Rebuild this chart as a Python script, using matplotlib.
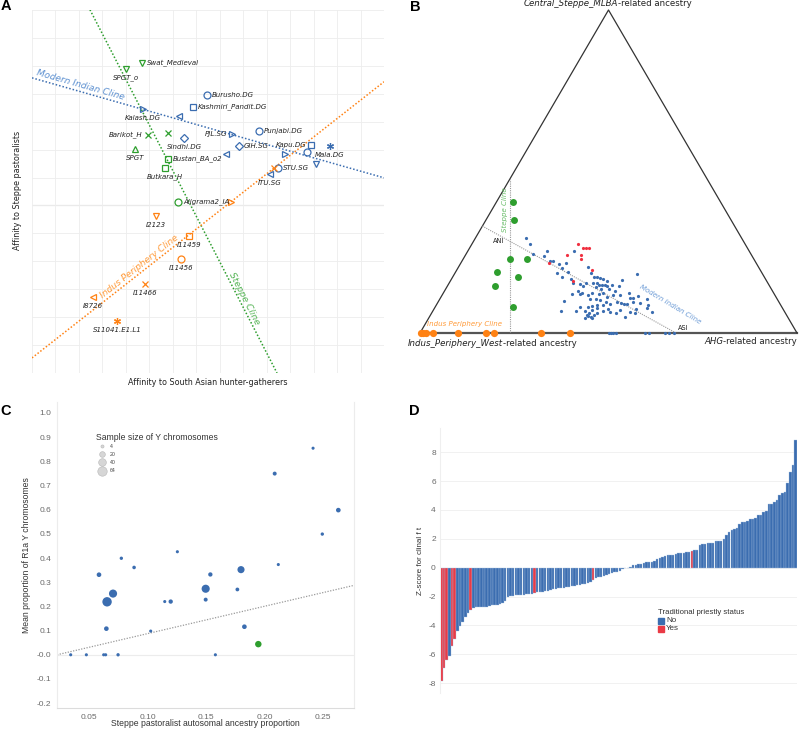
import numpy as np
import matplotlib.pyplot as plt

W, H = 800, 731
fig = plt.figure(figsize=(W / 100, H / 100), dpi=100)

BLUE = "#3b6db0"
GREEN = "#2e9e2e"
ORANGE = "#ff8214"
RED = "#ea3a45"
SANS = "Liberation Sans"


def add_ax(left, top, right, bottom):
    # axes placed by its pixel box in the reference
    return fig.add_axes([left / W, 1 - bottom / H, (right - left) / W, (bottom - top) / H])


def fig_text(x, y, s, **kw):
    return fig.text(x / W, 1 - y / H, s, **kw)


# ---------------- panel A data ----------------
a_labels = ["Swat_Medieval", "SPGT_o", "Burusho.DG", "Kashmiri_Pandit.DG", "Kalash.DG", "",
            "Barikot_H", "", "Sindhi.DG", "PJL.SG", "Punjabi.DG", "GIH.SG", "Kapu.DG", "Mala.DG",
            "", "", "", "SPGT", "Bustan_BA_o2", "Butkara_H", "", "STU.SG", "", "ITU.SG",
            "Aligrama2_IA", "", "I2123", "I11459", "I11456", "I11466", "I8726", "S11041.E1.L1"]
a_x = [4.69, 4.00, 7.46, 6.86, 4.73, 6.26, 4.94, 5.79, 6.48, 8.52, 9.67, 8.82, 11.89, 12.70,
       11.72, 10.78, 12.10, 4.39, 5.79, 5.67, 8.27, 10.48, 10.31, 10.14,
       6.22, 8.48, 5.28, 6.69, 6.35, 4.81, 2.60, 3.62]
a_y = [11.11, 10.90, 9.96, 9.53, 9.46, 9.21, 8.53, 8.60, 8.42, 8.57, 8.67, 8.14, 8.17, 8.14,
       7.92, 7.85, 7.49, 8.03, 7.67, 7.35, 7.85, 7.35, 7.35, 7.13,
       6.13, 6.13, 5.63, 4.91, 4.09, 3.19, 2.72, 1.86]
a_group = ["g", "g", "b", "b", "b", "b", "g", "g", "b", "b", "b", "b", "b", "b",
           "b", "b", "b", "g", "g", "g", "b", "b", "o", "b",
           "g", "o", "o", "o", "o", "o", "o", "o"]
a_shape = ["v", "v", "o", "s", ">", "<", "x", "x", "D", ">", "o", "D", "s", "*",
           "o", ">", "v", "^", "s", "s", "<", "o", "x", "<",
           "o", ">", "v", "s", "o", "x", "<", "*"]
a_place = ["r", "b", "r", "r", "b", "", "l", "", "b", "l", "r", "r", "l", "b",
           "", "", "", "b", "r", "b", "", "r", "", "b",
           "r", "", "b", "b", "b", "b", "b", "b"]

# cline end points
mic_x, mic_y = [0, 15], [10.57, 6.99]
stc_x, stc_y = [2.47, 10.44], [13.01, 0.0]
ipc_x, ipc_y = [0, 15], [0.54, 10.43]

# ---------------- panel B data (steppe, AHG proportions) ----------------
b_blue_steppe = [0.293, 0.276, 0.245, 0.239, 0.255, 0.255, 0.222, 0.224, 0.213, 0.218, 0.200, 0.185,
                 0.172, 0.190, 0.168, 0.205, 0.185, 0.174, 0.172, 0.169, 0.166, 0.162, 0.164, 0.182,
                 0.156, 0.152, 0.146, 0.154, 0.156, 0.156, 0.149, 0.148, 0.148, 0.146, 0.148, 0.146,
                 0.141, 0.135, 0.121, 0.131, 0.121, 0.123, 0.118, 0.123, 0.121, 0.123, 0.112, 0.118,
                 0.118, 0.125, 0.116, 0.109, 0.107, 0.105, 0.099, 0.104, 0.106, 0.102, 0.097, 0.090,
                 0.097, 0.092, 0.090, 0.090, 0.097, 0.092, 0.087, 0.087, 0.087, 0.084, 0.079, 0.067,
                 0.067, 0.079, 0.069, 0.061, 0.071, 0.057, 0.057, 0.051, 0.045, 0.063, 0.067, 0.066,
                 0.061, 0.071, 0.051, 0.066, 0.061, 0.064, 0.076, 0.073, 0.053, 0.045, 0.077, 0.135,
                 0.131, 0.073]
b_blue_ahg = [0.134, 0.155, 0.177, 0.210, 0.210, 0.281, 0.235, 0.242, 0.262, 0.277, 0.277, 0.270,
              0.290, 0.297, 0.316, 0.344, 0.360, 0.375, 0.384, 0.393, 0.403, 0.414, 0.453, 0.484,
              0.329, 0.348, 0.359, 0.362, 0.380, 0.391, 0.401, 0.409, 0.416, 0.424, 0.434, 0.456,
              0.397, 0.412, 0.344, 0.353, 0.364, 0.369, 0.387, 0.394, 0.415, 0.425, 0.439, 0.454,
              0.472, 0.493, 0.521, 0.511, 0.503, 0.549, 0.332, 0.399, 0.414, 0.426, 0.445, 0.459,
              0.473, 0.486, 0.495, 0.504, 0.517, 0.538, 0.562, 0.425, 0.441, 0.413, 0.406, 0.341,
              0.379, 0.386, 0.403, 0.419, 0.421, 0.433, 0.414, 0.428, 0.415, 0.437, 0.453, 0.471,
              0.489, 0.495, 0.519, 0.524, 0.540, 0.584, 0.563, 0.536, 0.419, 0.435, 0.432, 0.435,
              0.452, 0.463]
b_blue_base_ahg = [0.500, 0.506, 0.513, 0.520, 0.597, 0.608, 0.650, 0.661, 0.674]
b_red_steppe = [0.216, 0.241, 0.277, 0.264, 0.262, 0.262, 0.240, 0.228, 0.195, 0.162]
b_red_ahg = [0.233, 0.270, 0.281, 0.300, 0.308, 0.316, 0.307, 0.314, 0.359, 0.324]
b_green_steppe = [0.406, 0.350, 0.229, 0.229, 0.189, 0.173, 0.146, 0.080]
b_green_ahg = [0.044, 0.074, 0.124, 0.169, 0.110, 0.173, 0.126, 0.207]
b_orange_ahg = [0.003, 0.008, 0.016, 0.034, 0.101, 0.175, 0.196, 0.321, 0.398]
b_steppe_cline_s, b_steppe_cline_a = [0.0, 0.478], [0.239, 0.0]
b_mic_s, b_mic_a = [0.331, 0.0], [0.0, 0.679]

# ---------------- panel C data ----------------
c_steppe = [0.0343, 0.0477, 0.0625, 0.0642, 0.0748, 0.158, 0.0585, 0.0776, 0.0885, 0.1255,
            0.0705, 0.0654, 0.0648, 0.1027, 0.1147, 0.1198, 0.1497, 0.1537, 0.1497, 0.1768,
            0.1799, 0.1828, 0.1947, 0.2087, 0.2118, 0.2415, 0.2494, 0.2631]
c_r1a = [0.0, 0.0, 0.0, 0.0, 0.0, 0.0, 0.331, 0.399, 0.361, 0.426,
         0.253, 0.219, 0.108, 0.098, 0.220, 0.220, 0.273, 0.332, 0.228, 0.270,
         0.352, 0.116, 0.044, 0.749, 0.373, 0.854, 0.499, 0.598]
c_n = [4, 4, 4, 4, 5, 4, 12, 5, 6, 4,
       46, 64, 12, 4, 4, 10, 46, 10, 8, 7,
       34, 12, 27, 8, 4, 4, 5, 12]
c_green = [22]
c_fit_x, c_fit_y = [0.0226, 0.2765], [0.0, 0.287]
c_yticks = [1.0, 0.9, 0.8, 0.7, 0.6, 0.5, 0.4, 0.3, 0.2, 0.1, 0.0, -0.1, -0.2]
c_yticklabels = ["1.0", "0.9", "0.8", "0.7", "0.6", "0.5", "0.4", "0.3", "0.2", "0.1",
                 "-0.0", "-0.1", "-0.2"]
c_xticks = [0.05, 0.10, 0.15, 0.20, 0.25]
c_xticklabels = ["0.05", "0.10", "0.15", "0.20", "0.25"]
c_legend_n = [4, 20, 40, 64]

# ---------------- panel D data ----------------
d_z = [-7.85, -6.97, -6.37, -6.12, -5.40, -4.94, -4.39, -4.04, -3.74, -3.40, -3.16, -2.93,
       -2.76, -2.75, -2.74, -2.73, -2.72, -2.70, -2.66, -2.62, -2.58, -2.56, -2.52, -2.48, -2.30,
       -2.00, -1.96, -1.93, -1.91, -1.89, -1.87, -1.86, -1.84, -1.82, -1.80, -1.76,
       -1.72, -1.70, -1.66, -1.62, -1.59, -1.55, -1.51, -1.47, -1.43, -1.40,
       -1.38, -1.35, -1.32, -1.28, -1.25, -1.22, -1.19, -1.15, -1.11, -1.07, -1.02,
       -0.85,
       -0.72, -0.68, -0.62, -0.56, -0.50, -0.45, -0.40, -0.33, -0.27, -0.20, -0.12, -0.05, -0.02,
       0.03, 0.18, 0.20, 0.22, 0.25, 0.30, 0.38, 0.40, 0.42, 0.45,
       0.58, 0.68, 0.72, 0.80, 0.85, 0.88, 0.90, 0.93, 0.98, 1.00, 1.02, 1.05, 1.10,
       1.18,
       1.20, 1.22, 1.58, 1.62, 1.66, 1.70, 1.70, 1.72, 1.82, 1.84,
       1.86, 1.95, 2.28, 2.48, 2.58, 2.70, 2.78, 3.02, 3.15, 3.16,
       3.20, 3.35, 3.40, 3.42, 3.64, 3.68, 3.85, 3.92, 4.38, 4.42,
       4.55, 4.70, 5.00, 5.15, 5.22, 5.85, 6.62, 7.10, 8.85]
d_priestly = [0, 1, 2, 4, 5, 11, 35, 57, 94]

# ================= panel A =================
ax = add_ax(32, 10, 384, 373)
ax.set_xlim(0, 15)
ax.set_ylim(0, 13)
ax.set_xticks(range(16))
ax.set_yticks(range(14))
ax.set_axisbelow(True)
ax.grid(True, color="#ededed", lw=0.6)
ax.axhline(6, color="#e0e0e0", lw=0.9, zorder=0)
ax.tick_params(length=0, labelbottom=False, labelleft=False)
for s in ax.spines.values():
    s.set_visible(False)

a_col = {"b": BLUE, "g": GREEN, "o": ORANGE}
dots = (0, (1, 1.3))
ax.plot(mic_x, mic_y, color=BLUE, lw=1.1, ls=dots)
ax.plot(stc_x, stc_y, color=GREEN, lw=1.1, ls=dots)
ax.plot(ipc_x, ipc_y, color=ORANGE, lw=1.1, ls=dots)


def line_angle(axis, xs, ys):
    p = axis.transData.transform(np.column_stack([xs, ys]))
    return np.degrees(np.arctan2(p[1, 1] - p[0, 1], p[1, 0] - p[0, 0]))


ax.text(2.05, 10.32, "Modern Indian Cline", color="#5b8fd0", style="italic", fontsize=6.6,
        rotation=line_angle(ax, mic_x, mic_y), rotation_mode="anchor", ha="center", va="center")
ax.text(4.58, 3.80, "Indus Periphery Cline", color="#ff9a38", style="italic", fontsize=6.6,
        rotation=line_angle(ax, ipc_x, ipc_y), rotation_mode="anchor", ha="center", va="center")
ax.text(9.03, 2.65, "Steppe Cline", color="#55b455", style="italic", fontsize=6.6,
        rotation=line_angle(ax, stc_x, stc_y), rotation_mode="anchor", ha="center", va="center")

offsets = {"r": ((5, 0), "left"), "l": ((-5, 0), "right"), "b": ((0, -9), "center")}
for x, y, g, m, lab, pl in zip(a_x, a_y, a_group, a_shape, a_labels, a_place):
    mk = (6, 2, 0) if m == "*" else m
    ms = 4.0 if m == "D" else 5.0
    ax.plot(x, y, ls="none", marker=mk, ms=ms, mfc="none", mec=a_col[g], mew=0.9)
    if lab:
        off, ha = offsets[pl]
        ax.annotate(lab, (x, y), xytext=off, textcoords="offset pixels", ha=ha, va="center",
                    fontsize=5.0, style="italic", color="#222222")

fig_text(18, 190, "Affinity to Steppe pastoralists", rotation=90, ha="center", va="center",
         fontsize=5.8, color="#222222")
fig_text(208, 383, "Affinity to South Asian hunter-gatherers", ha="center", va="center",
         fontsize=5.8, color="#222222")

# ================= panel B =================
axb = add_ax(420, 10, 797, 333)
hgt = np.sqrt(3) / 2
axb.set_xlim(0, 1)
axb.set_ylim(0, hgt)
axb.axis("off")


def tern(steppe, ahg):
    steppe = np.asarray(steppe, float)
    ahg = np.asarray(ahg, float)
    return ahg + steppe / 2, steppe * hgt


def bpx(px, py):
    return (px - 420) / 377, (333 - py) / 323 * hgt


axb.plot([0, 0.5, 1], [0, hgt, 0], color="#333333", lw=0.9, clip_on=False)
axb.plot([0, 1], [0, 0], color="#555555", lw=1.6, clip_on=False, zorder=1)
axb.plot(*tern(b_steppe_cline_s, b_steppe_cline_a), color="#9a9a9a", lw=0.8, ls=(0, (1, 1)))
axb.plot(*tern(b_mic_s, b_mic_a), color="#9a9a9a", lw=0.8, ls=(0, (1, 1)))

axb.plot(*tern(b_blue_steppe, b_blue_ahg), "o", ms=2.3, color=BLUE, mec="none", clip_on=False)
axb.plot(*tern(np.zeros(len(b_blue_base_ahg)), b_blue_base_ahg), "o", ms=2.3, color=BLUE,
         mec="none", clip_on=False, zorder=3)
axb.plot(*tern(b_red_steppe, b_red_ahg), "o", ms=2.3, color="#f03040", mec="none")
axb.plot(*tern(b_green_steppe, b_green_ahg), "o", ms=5.0, color=GREEN, mec="none")
axb.plot(*tern(np.zeros(len(b_orange_ahg)), b_orange_ahg), "o", ms=5.2, color=ORANGE,
         mec="none", clip_on=False, zorder=4)

axb.text(*tern(0.285, 0.067), "ANI", fontsize=4.8, ha="center", va="center", color="#222222")
axb.text(*tern(0.015, 0.69), "ASI", fontsize=4.8, ha="center", va="center", color="#222222")
axb.text(*tern(0.381, 0.035), "Steppe Cline", fontsize=5.0, style="italic", color="#66bb66",
         rotation=90, ha="center", va="center")
axb.text(*tern(0.028, 0.105), "Indus Periphery Cline", fontsize=5.0, style="italic",
         color="#ff9a38", ha="center", va="center")
axb.text(*tern(0.087, 0.62), "Modern Indian Cline", fontsize=5.0, style="italic",
         color="#6c9bd6", rotation=-31, ha="center", va="center")

kw = dict(fontsize=6.2, va="baseline", color="#222222", clip_on=False)
axb.text(*bpx(618, 6.5), "Central_Steppe_MLBA", style="italic", ha="right", **kw)
axb.text(*bpx(618, 6.5), "-related ancestry", ha="left", **kw)
axb.text(*bpx(503, 345.5), "Indus_Periphery_West", style="italic", ha="right", **kw)
axb.text(*bpx(503, 345.5), "-related ancestry", ha="left", **kw)
t_ahg = axb.text(*bpx(797, 344.5), "-related ancestry", ha="right", **kw)
fig.canvas.draw()
bb = t_ahg.get_window_extent(fig.canvas.get_renderer())
x_split = axb.transData.inverted().transform((bb.x0, bb.y0))[0]
axb.text(x_split, bpx(797, 344.5)[1], "AHG", style="italic", ha="right", **kw)

# ================= panel C =================
axc = add_ax(57, 402, 354, 708)
axc.set_xlim(0.0226, 0.2765)
axc.set_ylim(-0.22, 1.045)
axc.spines["top"].set_visible(False)
for side in ["left", "right"]:
    axc.spines[side].set_color("#ececec")
axc.spines["bottom"].set_color("#dcdcdc")
axc.axhline(0, color="#ececec", lw=0.8, zorder=0)
axc.set_yticks(c_yticks)
axc.set_yticklabels(c_yticklabels)
axc.set_xticks(c_xticks)
axc.set_xticklabels(c_xticklabels)
axc.tick_params(length=0, labelsize=6.0, labelcolor="#6a6a6a", pad=4)
for t in axc.get_xticklabels() + axc.get_yticklabels():
    t.set_family(SANS)


def size_pts(n):
    d_px = 1.0 + 1.05 * np.sqrt(np.asarray(n, float))
    return (d_px * 0.72) ** 2


c_colors = [GREEN if i in c_green else BLUE for i in range(len(c_steppe))]
axc.plot(c_fit_x, c_fit_y, color="#9a9a9a", lw=0.9, ls=(0, (1, 1.2)))
axc.scatter(c_steppe, c_r1a, s=size_pts(c_n), c=c_colors, edgecolors="none", zorder=3)

fig_text(205, 724, "Steppe pastoralist autosomal ancestry proportion", fontsize=6.2,
         family=SANS, color="#333333", ha="center", va="center")
axc.set_ylabel("Mean proportion of R1a Y chromosomes", fontsize=6.2, family=SANS,
               color="#333333", labelpad=4)

fig_text(96, 437, "Sample size of Y chromosomes", fontsize=6.2, family=SANS, ha="left",
         va="center", color="#333333")
leg_y = [446, 454, 462, 471]
for n, py in zip(c_legend_n, leg_y):
    axc.scatter([(102 - 57) / 297], [(708 - py) / 306], s=size_pts(n), color="#d6d6d6",
                edgecolors="#b8b8b8", linewidths=0.4, transform=axc.transAxes, clip_on=False)
    fig_text(110, py, str(n), fontsize=3.8, family=SANS, ha="left", va="center",
             color="#444444")

# ================= panel D =================
axd = add_ax(440, 428, 797, 693)
axd.set_xlim(-0.5, len(d_z) - 0.5)
axd.set_ylim(-8.68, 9.67)
d_colors = [RED if i in d_priestly else BLUE for i in range(len(d_z))]
axd.bar(np.arange(len(d_z)), d_z, width=0.92, color=d_colors, edgecolor="#a8c0e0",
        linewidth=0.25, zorder=2)
axd.set_yticks(np.arange(-8, 9, 2))
axd.set_yticklabels([str(v) for v in np.arange(-8, 9, 2)])
axd.set_xticks([])
axd.set_axisbelow(True)
axd.grid(axis="y", color="#f1f1f1", lw=0.7)
for side in ["top", "right", "bottom"]:
    axd.spines[side].set_visible(False)
axd.spines["left"].set_color("#efefef")
axd.tick_params(length=0, labelsize=6.0, labelcolor="#6a6a6a", pad=3)
for t in axd.get_yticklabels():
    t.set_family(SANS)
fig_text(420, 561, "Z-score for clinal f t", rotation=90, fontsize=5.8, family=SANS,
         ha="center", va="center", color="#333333")

fig_text(658, 613, "Traditional priestly status", fontsize=5.6, family=SANS, ha="left",
         va="center", color="#333333")
for py, col, lab in [(621, BLUE, "No"), (629, RED, "Yes")]:
    fig.add_artist(plt.Rectangle((658 / W, 1 - (py + 3) / H), 6 / W, 6 / H, color=col,
                                 transform=fig.transFigure))
    fig_text(666, py, lab, fontsize=5.8, family=SANS, ha="left", va="center",
             color="#333333")

# panel letters
for lx, ly, letter in [(6, 6, "A"), (415, 7, "B"), (6, 411, "C"), (414, 411, "D")]:
    fig_text(lx, ly, letter, fontsize=10.5, fontweight="bold", family=SANS,
             ha="center", va="center")

fig.savefig("out.png", dpi=100)
